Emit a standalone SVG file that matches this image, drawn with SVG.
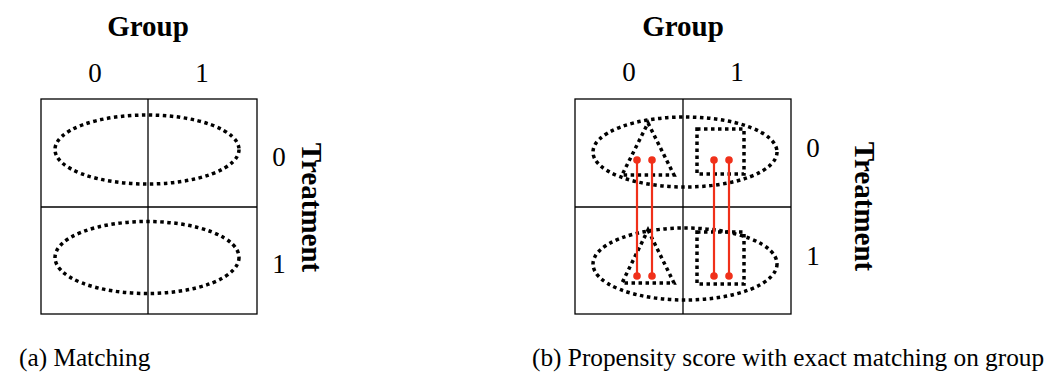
<svg xmlns="http://www.w3.org/2000/svg" width="1054" height="375" viewBox="0 0 1054 375">
<style>
text{font-family:"Liberation Serif","Times New Roman",serif;fill:#000}
.title{font-size:29px;font-weight:bold;text-anchor:middle}
.lab{font-size:27px;text-anchor:middle}
.cap{font-size:25.3px}
.box{fill:none;stroke:#000;stroke-width:1.3}
.dot{fill:none;stroke:#000;stroke-width:3.5;stroke-dasharray:3.5 3.5}
.red{stroke:#f0301a;stroke-width:2.2}
.rd{fill:#f0301a}
</style>
<g id="panel-a">
<text class="title" x="148" y="35.5">Group</text>
<text class="lab" x="95" y="82">0</text>
<text class="lab" x="202" y="82">1</text>
<rect class="box" x="41" y="99" width="216" height="215"/>
<line class="box" x1="148" y1="99" x2="148" y2="314"/>
<line class="box" x1="41" y1="207" x2="257" y2="207"/>
<ellipse class="dot" cx="147" cy="149.5" rx="92" ry="34.5"/>
<ellipse class="dot" cx="147" cy="257.5" rx="92" ry="36"/>
<text class="lab" x="279" y="166">0</text>
<text class="lab" x="279" y="273">1</text>
<text class="title" transform="translate(302,207.5) rotate(90)" x="0" y="0">Treatment</text>
<text class="cap" x="19" y="366">(a) Matching</text>
</g>
<g id="panel-b">
<text class="title" x="683" y="35.5">Group</text>
<text class="lab" x="629" y="81">0</text>
<text class="lab" x="737" y="81">1</text>
<rect class="box" x="575" y="99" width="216" height="215"/>
<line class="box" x1="683" y1="99" x2="683" y2="314"/>
<line class="box" x1="575" y1="207" x2="791" y2="207"/>
<ellipse class="dot" cx="685" cy="152" rx="92" ry="35"/>
<ellipse class="dot" cx="685" cy="264" rx="92" ry="36"/>
<polygon class="dot" points="648,123 674,175 622,175"/>
<polygon class="dot" points="648,230 674,283 622,283"/>
<rect class="dot" x="697" y="129" width="47" height="45"/>
<rect class="dot" x="697" y="232" width="47" height="52"/>
<text class="lab" x="813" y="157">0</text>
<text class="lab" x="813" y="265">1</text>
<text class="title" transform="translate(855,206.5) rotate(90)" x="0" y="0">Treatment</text>
<text class="cap" x="532" y="366">(b) Propensity score with exact matching on group</text>
</g>
<g id="connectors">
<line class="red" x1="637" y1="160" x2="637" y2="276"/>
<line class="red" x1="652" y1="160" x2="652" y2="276"/>
<line class="red" x1="714" y1="160" x2="714" y2="276"/>
<line class="red" x1="729" y1="160" x2="729" y2="276"/>
<circle class="rd" cx="637" cy="160" r="3.8"/>
<circle class="rd" cx="652" cy="160" r="3.8"/>
<circle class="rd" cx="714" cy="160" r="3.8"/>
<circle class="rd" cx="729" cy="160" r="3.8"/>
<circle class="rd" cx="637" cy="276" r="3.8"/>
<circle class="rd" cx="652" cy="276" r="3.8"/>
<circle class="rd" cx="714" cy="276" r="3.8"/>
<circle class="rd" cx="729" cy="276" r="3.8"/>
</g>
</svg>
